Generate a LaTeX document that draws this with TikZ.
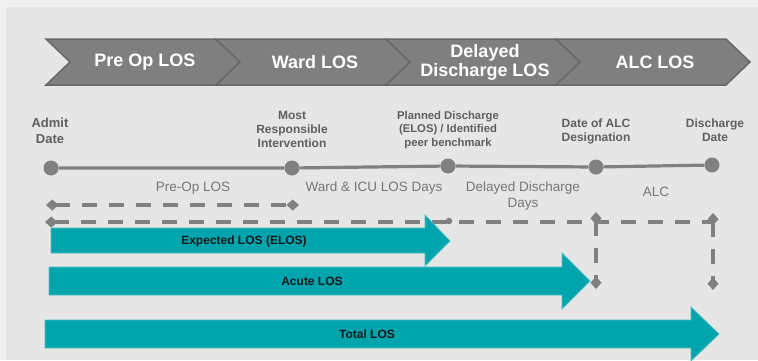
\documentclass[tikz,border=0pt]{standalone}
\usepackage{fontspec}
\setmainfont{Liberation Sans}
\usetikzlibrary{arrows.meta}

\definecolor{pagebg}{HTML}{F0F0F0}
\definecolor{panelbg}{HTML}{E6E6E6}
\definecolor{chevfill}{HTML}{7F7F7F}
\definecolor{chevedge}{HTML}{686868}
\definecolor{markgray}{HTML}{808080}
\definecolor{labelgray}{HTML}{5F5F5F}
\definecolor{softgray}{HTML}{767676}
\definecolor{losteal}{HTML}{00A4AD}
\definecolor{tealedge}{HTML}{4DBFC6}

\tikzset{diam/.tip={Diamond[length=12.5pt,width=11pt]}}

\begin{document}
\begin{tikzpicture}[x=1pt,y=-1pt,
  chevron/.style={fill=chevfill,draw=chevedge,line width=1.5pt,line join=miter},
  chevtext/.style={text=white,font=\bfseries\fontsize{18}{19}\selectfont,align=center,inner sep=0pt},
  event/.style={circle,fill=markgray,minimum size=15pt,inner sep=0pt},
  eventlabel/.style={text=labelgray,font=\bfseries\fontsize{12}{14}\selectfont,align=center,inner sep=0pt},
  spanlabel/.style={text=softgray,font=\fontsize{13.5}{16}\selectfont,align=center,inner sep=0pt},
  timeline/.style={draw=markgray,line width=3.2pt},
  span/.style={draw=markgray,line width=4pt,dash pattern=on 15pt off 12pt},
  losbar/.style={fill=losteal,draw=tealedge,line width=0.8pt},
  bartext/.style={text=black!90,font=\bfseries\fontsize{12}{14}\selectfont,inner sep=0pt}
]
\useasboundingbox (0,0) rectangle (758,360);
\clip (0,0) rectangle (758,360);

% background and panel
\fill[pagebg] (0,0) rectangle (758,360);
\fill[panelbg] (6,7) rectangle (758,360);

% phase chevrons
\foreach \L/\txt [count=\i] in {46/{Pre Op LOS}, 216/{Ward LOS}, 386/{Delayed\\Discharge LOS}, 556/{ALC LOS}} {
  \draw[chevron] (\L,39) -- ++(170,0) -- ++(24,23) -- ++(-24,23) -- ++(-170,0) -- ++(24,-23) -- cycle;
  \node[chevtext] (phase\i) at (\L+99,62) {\txt};
}

% timeline events
\node[event] (admit) at (51,168) {};
\node[event] (mri) at (292,168) {};
\node[event] (planned) at (448,166) {};
\node[event] (alc) at (596,167) {};
\node[event] (disch) at (712,165) {};
\draw[timeline] (admit) -- (mri) -- (planned) -- (alc) -- (disch);

% event labels
\node[eventlabel,font=\bfseries\fontsize{13}{16}\selectfont] (admitlbl) at (50,131) {Admit\\Date};
\node[eventlabel] (mrilbl) at (292,129) {Most\\Responsible\\Intervention};
\node[eventlabel,font=\bfseries\fontsize{11.3}{13.5}\selectfont] (plannedlbl) at (448,130) {Planned Discharge\\(ELOS) / Identified\\peer benchmark};
\node[eventlabel] (alclbl) at (596,131) {Date of ALC\\Designation};
\node[eventlabel] (dischlbl) at (715,130) {Discharge\\Date};

% span labels
\node[spanlabel] (preop) at (193,188) {Pre-Op LOS};
\node[spanlabel] (ward) at (374,188) {Ward \& ICU LOS Days};
\node[spanlabel] (delayed) at (523,196) {Delayed Discharge\\Days};
\node[spanlabel] (alcspan) at (656,192) {ALC};

% dashed spans
\coordinate (s1a) at (46,205);
\coordinate (s1b) at (299,205);
\draw[span,diam-diam] (s1a) -- (s1b);

\coordinate (s2a) at (45,222);
\coordinate (s2b) at (713,222);
\draw[span,diam-] (s2a) -- (s2b);
\node[circle,fill=markgray,minimum size=6.5pt,inner sep=0pt] (plannedmark) at (449,221) {};

\coordinate (v1a) at (596,212);
\coordinate (v1b) at (596,289);
\draw[span,diam-diam] (v1a) -- (v1b);
\coordinate (v2a) at (713,213);
\coordinate (v2b) at (713,290);
\draw[span,diam-diam] (v2a) -- (v2b);

% length-of-stay bars
\draw[losbar] (51,228) -- (425,228) -- (425,215) -- (450,241) -- (425,266) -- (425,253) -- (51,253) -- cycle;
\node[bartext] (elos) at (244,241) {Expected LOS (ELOS)};
\draw[losbar] (49,267) -- (562,267) -- (562,253) -- (590,281) -- (562,309) -- (562,295) -- (49,295) -- cycle;
\node[bartext] (acute) at (312,281) {Acute LOS};
\draw[losbar] (45,320) -- (691,320) -- (691,307) -- (719,334) -- (691,361) -- (691,348) -- (45,348) -- cycle;
\node[bartext] (total) at (367,334) {Total LOS};
\end{tikzpicture}
\end{document}
